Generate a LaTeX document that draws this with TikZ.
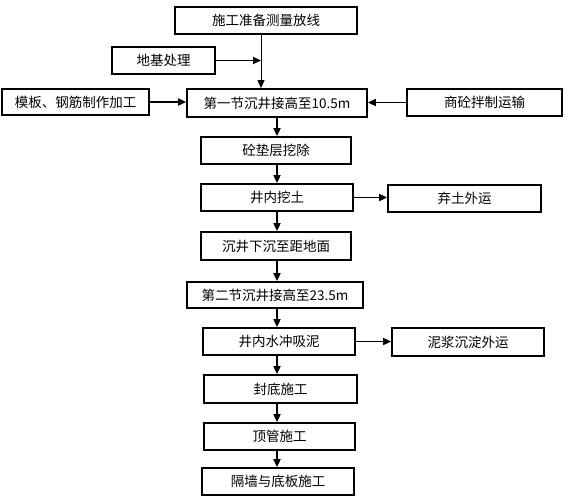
\documentclass[tikz,border=0pt]{standalone}
\usepackage{fontspec}
\setmainfont{Noto Sans CJK SC}
\usetikzlibrary{arrows.meta,positioning}

\begin{document}
\begin{tikzpicture}[x=1pt,y=-1pt,
  stage/.style={rectangle,draw,line width=1.8pt,inner sep=0pt,minimum height=27pt,align=center,font=\fontsize{13.5}{14}\selectfont},
  arr/.style={-{Triangle[length=8pt,width=7pt]},line width=1.8pt},
  thinarr/.style={-{Triangle[length=8pt,width=7pt]},line width=0.8pt}]
  \useasboundingbox (0,0) rectangle (572,496);
  \coordinate (trunk) at (261,0);
  \coordinate (axis) at (277,0);
  \node[stage,minimum width=182pt] (prep)    at (266,20.5)  {施工准备测量放线};
  \node[stage,minimum width=103pt] (found)   at (163.5,60.5) {地基处理};
  \node[stage,minimum width=147pt,minimum height=26pt] (form) at (75.5,102) {模板、钢筋制作加工};
  \node[stage,minimum width=180pt,minimum height=28pt] (first) at (277,103) {第一节沉井接高至10.5m};
  \node[stage,minimum width=155pt] (conc)    at (484.5,102.5) {商砼拌制运输};
  \node[stage,minimum width=150pt] (cushion) at (276,150.5) {砼垫层挖除};
  \node[stage,minimum width=152pt] (dig)     at (277,197.5) {井内挖土};
  \node[stage,minimum width=153pt] (spoil)   at (464.5,198.5) {弃土外运};
  \node[stage,minimum width=150pt,minimum height=28pt] (sink) at (276,246) {沉井下沉至距地面};
  \node[stage,minimum width=176pt,minimum height=26pt] (second) at (275,295) {第二节沉井接高至23.5m};
  \node[stage,minimum width=152pt] (flush)   at (279,341.5) {井内水冲吸泥};
  \node[stage,minimum width=152pt,minimum height=28pt] (slurry) at (468,342) {泥浆沉淀外运};
  \node[stage,minimum width=153pt,minimum height=28pt] (seal) at (280.5,389) {封底施工};
  \node[stage,minimum width=151pt] (jack)    at (279.5,436.5) {顶管施工};
  \node[stage,minimum width=152pt] (wall)    at (278,481.5) {隔墙与底板施工};
  \draw[thinarr] (prep.south -| trunk) -- (first.north -| trunk);
  \draw[arr] (found.east) -- (found.east -| trunk);
  \draw[arr] (form.east) -- (form.east -| first.west);
  \draw[arr] (conc.west) -- (conc.west -| first.east);
  \draw[arr] (first.south -| axis) -- (cushion.north -| axis);
  \draw[arr] (cushion.south -| axis) -- (dig.north -| axis);
  \draw[arr] (dig.east) -- (dig.east -| spoil.west);
  \draw[arr] (dig.south -| axis) -- (sink.north -| axis);
  \draw[arr] (sink.south -| axis) -- (second.north -| axis);
  \draw[arr] (second.south -| axis) -- (flush.north -| axis);
  \draw[arr] (flush.east) -- (flush.east -| slurry.west);
  \draw[arr] (flush.south -| axis) -- (seal.north -| axis);
  \draw[arr] (seal.south -| axis) -- (jack.north -| axis);
  \draw[arr] (jack.south -| axis) -- (wall.north -| axis);
\end{tikzpicture}
\end{document}
